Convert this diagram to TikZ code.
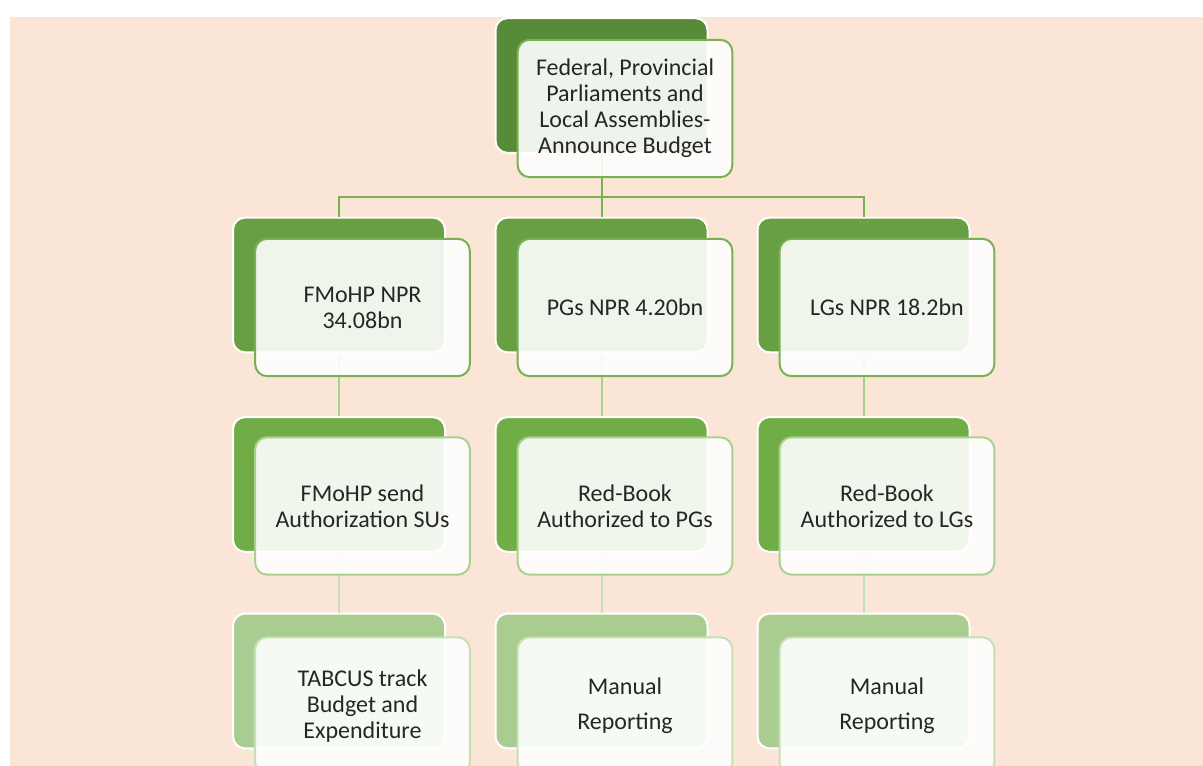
\documentclass[tikz,border=0pt]{standalone}
\usepackage{fontspec}
\setmainfont{Carlito}
\usetikzlibrary{positioning}

\definecolor{peach}{HTML}{FBE5D6}
\definecolor{backA}{HTML}{578B37}
\definecolor{backB}{HTML}{679F42}
\definecolor{backC}{HTML}{70AD47}
\definecolor{backD}{HTML}{A9CD90}
\definecolor{edgeA}{HTML}{7AB054}
\definecolor{edgeC}{HTML}{A9D18E}
\definecolor{edgeD}{HTML}{C5E0B4}
\definecolor{inktext}{HTML}{262626}

\tikzset{
  backbox/.style={draw=white, line width=1.5pt, rounded corners=9pt,
    minimum width=159pt, minimum height=101pt, inner sep=0pt},
  frontbox/.style={draw=#1, line width=1.5pt, rounded corners=9pt,
    fill=white, fill opacity=0.9, text opacity=1, text=inktext,
    minimum width=161pt, minimum height=103pt, inner sep=0pt,
    align=center, font=\fontsize{18}{19.5}\selectfont},
  link/.style={draw=#1, line width=1.5pt}
}

\begin{document}
\begin{tikzpicture}[x=0.75pt, y=-0.75pt]
      \useasboundingbox (0,0) rectangle (1203,766);
      % page background
      \fill[peach] (10,17) rectangle (1203,766);
      % back boxes
      \node[backbox, fill=backA] (b0) at (601.5,85.5) {};
      \node[backbox, fill=backB] (b11) at (339,285) {};
      \node[backbox, fill=backB] (b12) at (601.5,285) {};
      \node[backbox, fill=backB] (b13) at (863.5,285) {};
      \node[backbox, fill=backC] (b21) at (339,484.5) {};
      \node[backbox, fill=backC] (b22) at (601.5,484.5) {};
      \node[backbox, fill=backC] (b23) at (863.5,484.5) {};
      \node[backbox, fill=backD] (b31) at (339,681) {};
      \node[backbox, fill=backD] (b32) at (601.5,681) {};
      \node[backbox, fill=backD] (b33) at (863.5,681) {};
      % connectors
      \coordinate (fork) at (601.5,197);
      \draw[link=edgeA] (b0.south) -- (fork);
      \draw[link=edgeA] (fork) -| (b11.north);
      \draw[link=edgeA] (fork) -- (b12.north);
      \draw[link=edgeA] (fork) -| (b13.north);
      \draw[link=edgeC] (b11.south) -- (b21.north);
      \draw[link=edgeC] (b12.south) -- (b22.north);
      \draw[link=edgeC] (b13.south) -- (b23.north);
      \draw[link=edgeD] (b21.south) -- (b31.north);
      \draw[link=edgeD] (b22.south) -- (b32.north);
      \draw[link=edgeD] (b23.south) -- (b33.north);
      % front boxes
      \node[frontbox=edgeA] (f0) at ([shift={(23.5,23)}]b0) {Federal, Provincial\\Parliaments and\\Local Assemblies-\\Announce Budget};
      \node[frontbox=edgeA] (f11) at ([shift={(23.5,22.5)}]b11) {FMoHP NPR\\34.08bn};
      \node[frontbox=edgeA] (f12) at ([shift={(23.5,22.5)}]b12) {PGs NPR 4.20bn};
      \node[frontbox=edgeA] (f13) at ([shift={(23.5,22.5)}]b13) {LGs NPR 18.2bn};
      \node[frontbox=edgeC] (f21) at ([shift={(23.5,21.5)}]b21) {FMoHP send\\Authorization SUs};
      \node[frontbox=edgeC] (f22) at ([shift={(23.5,21.5)}]b22) {Red-Book\\Authorized to PGs};
      \node[frontbox=edgeC] (f23) at ([shift={(23.5,21.5)}]b23) {Red-Book\\Authorized to LGs};
      \node[frontbox=edgeD] (f31) at ([shift={(23.5,25)}]b31) {TABCUS track\\Budget and\\Expenditure};
      \node[frontbox=edgeD] (f32) at ([shift={(23.5,25)}]b32) {Manual\\[7pt]Reporting};
      \node[frontbox=edgeD] (f33) at ([shift={(23.5,25)}]b33) {Manual\\[7pt]Reporting};
    \end{tikzpicture}
\end{document}
